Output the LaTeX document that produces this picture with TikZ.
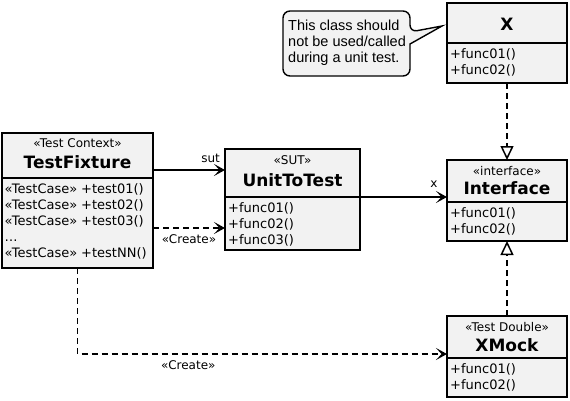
\documentclass[tikz,border=0pt]{standalone}
\usepackage{fontspec}
\setmainfont{DejaVu Sans}
\newfontfamily\notefont{Liberation Sans}
\usetikzlibrary{arrows.meta,calc}
\definecolor{boxfill}{HTML}{F2F2F2}
\begin{document}
\begin{tikzpicture}[x=1pt,y=-1pt,
  cbox/.style={draw=black, line width=1.8pt, fill=boxfill, inner sep=0pt, outer sep=0pt, anchor=north west},
  stereo/.style={font=\fontsize{12}{13}\selectfont, inner sep=0pt},
  cname/.style={font=\bfseries\fontsize{17}{19}\selectfont, inner sep=0pt},
  members/.style={font=\fontsize{13}{16}\selectfont, align=left, inner sep=0pt, anchor=north west},
  lbl/.style={font=\fontsize{12}{13}\selectfont, inner sep=0pt},
  assoc/.style={line width=1.8pt, -{Stealth[length=11pt,width=12pt,inset=5.5pt]}},
  dep/.style={assoc, dash pattern=on 6pt off 4pt},
  real/.style={line width=1.6pt, dash pattern=on 6pt off 4pt, -{Triangle[open,length=14pt,width=13pt,fill=white,line width=1.5pt]}},
  notebox/.style={draw=black, line width=1.4pt, fill=boxfill},
  notetext/.style={font=\notefont\fontsize{14.5}{16}\selectfont, align=left, inner sep=0pt, anchor=west},
]
\fill[white] (0,0) rectangle (570,400);
\useasboundingbox (0,0) rectangle (570,400);

% TestFixture
\node[cbox, minimum width=151pt, minimum height=45pt] (tfh) at (2,133) {};
\node[cbox, minimum width=151pt, minimum height=90pt] (tfb) at (tfh.south west) {};
\node[stereo] (tfs) at (77.5,143) {«Test Context»};
\node[cname] (tfn) at (77.5,162) {TestFixture};
\node[members] (tfm) at ([xshift=2.5pt,yshift=-5pt]tfb.north west)
  {«TestCase»\hspace{0.3em}+test01()\\«TestCase»\hspace{0.3em}+test02()\\«TestCase»\hspace{0.3em}+test03()\\…\\«TestCase»\hspace{0.3em}+testNN()};

% UnitToTest
\node[cbox, minimum width=135pt, minimum height=48pt] (uth) at (225,149) {};
\node[cbox, minimum width=135pt, minimum height=53pt] (utb) at (uth.south west) {};
\node[stereo] (uts) at (292.5,160) {«SUT»};
\node[cname] (utn) at (292.5,180) {UnitToTest};
\node[members] (utm) at ([xshift=3pt,yshift=-5pt]utb.north west)
  {+func01()\\+func02()\\+func03()};

% Interface
\node[cbox, minimum width=120pt, minimum height=42pt] (ifh) at (447,160) {};
\node[cbox, minimum width=120pt, minimum height=39pt] (ifb) at (ifh.south west) {};
\node[stereo] (ifs) at (507,171) {«interface»};
\node[cname] (ifn) at (507,188) {Interface};
\node[members] (ifm) at ([xshift=3pt,yshift=-5pt]ifb.north west)
  {+func01()\\+func02()};

% X
\node[cbox, minimum width=120pt, minimum height=40pt] (xh) at (447,3) {};
\node[cbox, minimum width=120pt, minimum height=40pt] (xb) at (xh.south west) {};
\node[cname] (xn) at (507,24) {X};
\node[members] (xm) at ([xshift=3pt,yshift=-5pt]xb.north west)
  {+func01()\\+func02()};

% XMock
\node[cbox, minimum width=120pt, minimum height=42pt] (xmh) at (447,316) {};
\node[cbox, minimum width=120pt, minimum height=39pt] (xmb) at (xmh.south west) {};
\node[stereo] (xms) at (507,327) {«Test Double»};
\node[cname] (xmn) at (507,345) {XMock};
\node[members] (xmm) at ([xshift=3pt,yshift=-5pt]xmb.north west)
  {+func01()\\+func02()};

% Note
\draw[notebox] (410,44) [rounded corners=7pt] -- (410,76) -- (283,76) -- (283,11) -- (410,11) -- (410,32) [sharp corners] -- (442,26) -- cycle;
\node[notetext] (nt) at (288,43) {This class should\\not be used/called\\during a unit test.};

% Connectors
\draw[assoc] (tfh.east |- 0,170) -- (uth.west |- 0,170)
  node[lbl, pos=0.8, above=6pt] (lsut) {sut};
\draw[dep] (tfb.east |- 0,228) -- (utb.west |- 0,228)
  node[lbl, pos=0.5, below=6pt] (lc1) {«Create»};
\draw[assoc] (uth.south east) -- (ifh.west |- uth.south east)
  node[lbl, pos=0.85, above=9pt] (lx) {x};
\draw[real] (xb.south) -- (ifh.north);
\draw[real] (xmh.north) -- (ifb.south);
\draw[dep] (tfb.south) |- ([yshift=4pt]xmh.south west)
  node[lbl, pos=0.65, below=6pt] (lc2) {«Create»};
\end{tikzpicture}
\end{document}
